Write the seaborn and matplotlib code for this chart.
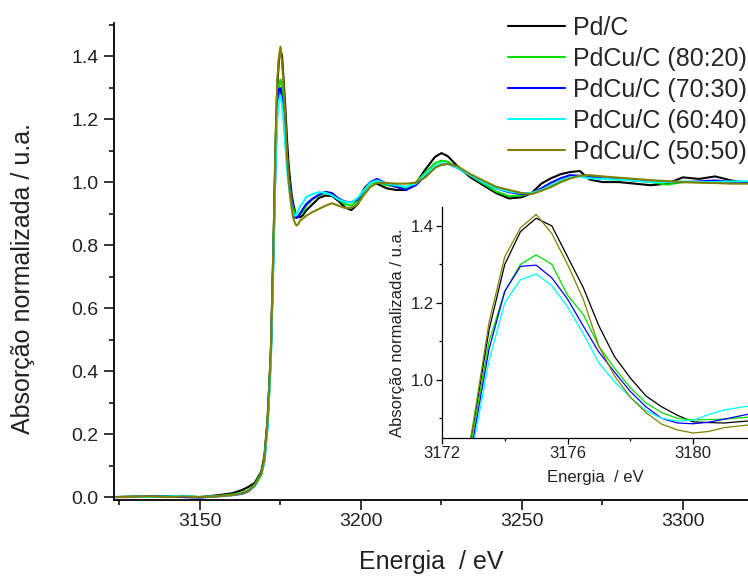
import matplotlib
matplotlib.use("Agg")
import matplotlib.pyplot as plt
from matplotlib.ticker import MultipleLocator
import seaborn as sns
import pandas as pd

# Energy grid (eV) shared by all spectra
energy = [3124, 3130, 3135, 3140, 3145, 3150, 3155, 3160, 3163, 3165,
          3167, 3169, 3170, 3171, 3172, 3172.5, 3173, 3173.5, 3174, 3174.5,
          3175, 3175.5, 3176, 3176.5, 3177, 3177.5, 3178, 3178.5, 3179, 3179.5,
          3180, 3180.5, 3181, 3182, 3183, 3185, 3187, 3189, 3191, 3193,
          3195, 3197, 3199, 3201, 3203, 3205, 3208, 3211, 3214, 3217,
          3220, 3223, 3225, 3227, 3230, 3234, 3238, 3242, 3246, 3250,
          3253, 3256, 3259, 3262, 3265, 3268, 3271, 3275, 3280, 3285,
          3290, 3295, 3300, 3305, 3310, 3315, 3320]

pd_c = [0.0, 0.002, 0.001, 0.003, 0.0, 0.0, 0.005, 0.012, 0.022, 0.032,
        0.045, 0.08, 0.13, 0.25, 0.46, 0.66, 0.88, 1.13, 1.30, 1.385,
        1.42, 1.40, 1.32, 1.24, 1.14, 1.06, 1.005, 0.958, 0.93, 0.908,
        0.891, 0.889, 0.888, 0.895, 0.91, 0.93, 0.95, 0.957, 0.956, 0.94,
        0.92, 0.911, 0.93, 0.98, 1.0, 0.995, 0.98, 0.975, 0.975, 0.995,
        1.04, 1.08, 1.092, 1.082, 1.05, 1.015, 0.99, 0.965, 0.948, 0.952,
        0.965, 0.995, 1.012, 1.025, 1.032, 1.035, 1.008, 1.0, 1.0, 0.995,
        0.99, 0.995, 1.015, 1.01, 1.018, 1.005, 0.998]

pdcu_80 = [0.0, 0.001, 0.002, 0.0, 0.003, 0.0, 0.003, 0.008, 0.014, 0.022,
           0.04, 0.075, 0.12, 0.24, 0.45, 0.65, 0.87, 1.10, 1.23, 1.30,
           1.325, 1.30, 1.22, 1.17, 1.087, 1.03, 0.98, 0.94, 0.915, 0.90,
           0.896, 0.897, 0.898, 0.905, 0.925, 0.945, 0.958, 0.965, 0.962, 0.945,
           0.93, 0.925, 0.94, 0.97, 0.995, 1.0, 0.99, 0.985, 0.982, 0.998,
           1.03, 1.06, 1.068, 1.065, 1.045, 1.02, 0.995, 0.97, 0.955, 0.958,
           0.965, 0.975, 0.985, 1.0, 1.012, 1.02, 1.02, 1.01, 1.008, 1.005,
           1.0, 0.992, 1.0, 1.0, 0.998, 1.0, 0.998]

pdcu_70 = [0.0, 0.0, 0.002, 0.001, 0.0, -0.002, 0.002, 0.006, 0.01, 0.018,
           0.035, 0.07, 0.115, 0.23, 0.44, 0.64, 0.85, 1.08, 1.23, 1.295,
           1.298, 1.265, 1.21, 1.14, 1.072, 1.02, 0.97, 0.93, 0.90, 0.888,
           0.886, 0.89, 0.898, 0.915, 0.93, 0.948, 0.96, 0.969, 0.965, 0.948,
           0.938, 0.936, 0.945, 0.975, 1.0, 1.01, 0.995, 0.985, 0.975, 0.99,
           1.02, 1.048, 1.055, 1.058, 1.045, 1.022, 1.0, 0.98, 0.968, 0.962,
           0.963, 0.98, 0.998, 1.012, 1.022, 1.02, 1.015, 1.012, 1.01, 1.005,
           1.002, 1.0, 1.0, 1.002, 1.005, 1.0, 1.0]

pdcu_60 = [0.0, 0.001, 0.0, 0.002, 0.004, 0.0, 0.002, 0.006, 0.012, 0.02,
           0.035, 0.068, 0.11, 0.22, 0.42, 0.62, 0.83, 1.05, 1.20, 1.26,
           1.275, 1.245, 1.19, 1.12, 1.044, 0.995, 0.955, 0.92, 0.90, 0.893,
           0.895, 0.91, 0.922, 0.935, 0.953, 0.962, 0.968, 0.966, 0.958, 0.945,
           0.937, 0.935, 0.95, 0.975, 0.998, 1.005, 0.995, 0.99, 0.985, 0.995,
           1.025, 1.05, 1.06, 1.058, 1.045, 1.022, 1.0, 0.98, 0.97, 0.965,
           0.965, 0.975, 0.99, 1.005, 1.015, 1.018, 1.012, 1.01, 1.008, 1.005,
           1.0, 1.0, 1.002, 1.0, 1.0, 1.002, 1.003]

pdcu_50 = [0.0, 0.001, 0.002, 0.0, 0.002, 0.0, 0.002, 0.006, 0.012, 0.02,
           0.038, 0.072, 0.12, 0.24, 0.46, 0.66, 0.89, 1.15, 1.32, 1.395,
           1.43, 1.38, 1.30, 1.21, 1.087, 1.01, 0.955, 0.915, 0.885, 0.87,
           0.862, 0.866, 0.876, 0.885, 0.893, 0.905, 0.915, 0.925, 0.933, 0.925,
           0.918, 0.918, 0.93, 0.96, 0.985, 0.997, 0.997, 0.995, 0.995, 0.998,
           1.015, 1.045, 1.055, 1.058, 1.05, 1.025, 1.005, 0.985, 0.975, 0.965,
           0.962, 0.972, 0.985, 1.0, 1.012, 1.02, 1.022, 1.018, 1.014, 1.01,
           1.006, 1.003, 1.0, 0.998, 0.997, 0.995, 0.995]

labels = ["Pd/C", "PdCu/C (80:20)", "PdCu/C (70:30)", "PdCu/C (60:40)", "PdCu/C (50:50)"]
colors = ["#000000", "#00e000", "#0000ff", "#00ffff", "#808000"]
series = [pd_c, pdcu_80, pdcu_70, pdcu_60, pdcu_50]

df = pd.concat([pd.DataFrame({"energia": energy, "abs": s, "amostra": lab})
                for s, lab in zip(series, labels)], ignore_index=True)
palette = dict(zip(labels, colors))

sns.set_theme(style="ticks")
plt.rcParams["font.family"] = ["Liberation Sans", "DejaVu Sans"]

fig = plt.figure(figsize=(7.48, 5.77), dpi=100)

# main panel
ax = fig.add_axes([0.1524, 0.1334, 0.8476, 0.8267])
sns.lineplot(data=df, x="energia", y="abs", hue="amostra", palette=palette,
             estimator=None, linewidth=1.5, ax=ax)
ax.set_xlim(3123.3, 3320.2)
ax.set_ylim(-0.0095, 1.505)
ax.xaxis.set_major_locator(MultipleLocator(50))
ax.xaxis.set_minor_locator(MultipleLocator(25))
ax.yaxis.set_major_locator(MultipleLocator(0.2))
ax.yaxis.set_minor_locator(MultipleLocator(0.1))
ax.tick_params(which="major", direction="out", length=7, width=1.1, labelsize=14,
               color="black", labelcolor="#222222")
ax.tick_params(which="minor", direction="out", length=3.5, width=1.1, color="black")
ax.tick_params(axis="x", which="major", pad=2)
ax.tick_params(axis="y", which="major", pad=4)
for side in ["top", "right"]:
    ax.spines[side].set_visible(False)
for side in ["left", "bottom"]:
    ax.spines[side].set_linewidth(1.3)
    ax.spines[side].set_color("black")
ax.set_xlabel("Energia  / eV", fontsize=18, color="#222222", labelpad=15)
ax.set_ylabel("Absorção normalizada / u.a.", fontsize=18, color="#222222", labelpad=26)
ax.yaxis.label.set_y(0.465)

handles, labs = ax.get_legend_handles_labels()
ax.legend(handles, labs, loc="upper left", bbox_to_anchor=(0.679, 0.973),
          bbox_transform=fig.transFigure, frameon=False, fontsize=18,
          handlelength=2.3, handletextpad=0.3, labelspacing=0.28, borderpad=0,
          borderaxespad=0)

# inset zoom on the white line
axin = fig.add_axes([0.5909, 0.2409, 0.4091, 0.4003])
sns.lineplot(data=df, x="energia", y="abs", hue="amostra", palette=palette,
             estimator=None, linewidth=0.9, legend=False, ax=axin)
axin.set_facecolor("white")
axin.set_xlim(3172, 3181.75)
axin.set_ylim(0.849, 1.449)
axin.xaxis.set_major_locator(MultipleLocator(4))
axin.xaxis.set_minor_locator(MultipleLocator(2))
axin.yaxis.set_major_locator(MultipleLocator(0.2))
axin.yaxis.set_minor_locator(MultipleLocator(0.1))
axin.tick_params(which="major", direction="out", length=4, width=0.9, labelsize=12,
                 color="black", labelcolor="#222222", pad=2)
axin.tick_params(which="minor", direction="out", length=2.5, width=0.9, color="black")
for side in ["top", "right"]:
    axin.spines[side].set_visible(False)
for side in ["left", "bottom"]:
    axin.spines[side].set_linewidth(0.9)
    axin.spines[side].set_color("black")
axin.set_xlabel("Energia  / eV", fontsize=12, color="#222222", labelpad=6)
axin.set_ylabel("Absorção normalizada / u.a.", fontsize=12, color="#222222", labelpad=4)
axin.yaxis.label.set_y(0.455)

fig.savefig("out.png", dpi=100)
